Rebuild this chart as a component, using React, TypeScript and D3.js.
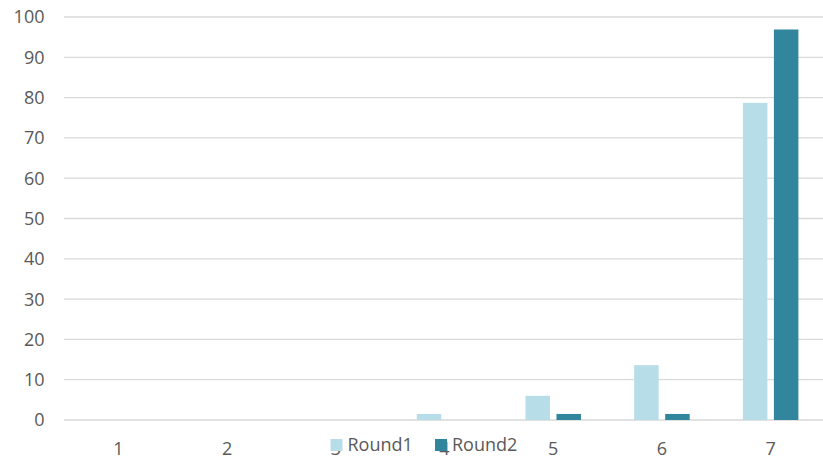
import React from "react";
import * as d3 from "d3";

const categories = ["1", "2", "3", "4", "5", "6", "7"];
const seriesNames = ["Round1", "Round2"];
const round1 = [0, 0, 0, 1.5, 6.0, 13.6, 78.7];
const round2 = [0, 0, 0, 0, 1.5, 1.5, 96.9];
const yTicks = [0, 10, 20, 30, 40, 50, 60, 70, 80, 90, 100];

const width = 823;
const height = 459;
const colors = ["#b7dde8", "#31859c"]; // light / dark teal
const font = "'Open Sans', sans-serif";

export default function App() {
  const x = d3.scaleBand<string>().domain(categories).range([64, 825]).padding(0);
  const xSub = d3
    .scaleBand<string>()
    .domain(seriesNames)
    .range([0, x.bandwidth()])
    .paddingInner(0.21)
    .paddingOuter(0.858);
  const y = d3.scaleLinear().domain([0, 100]).range([420, 17]);

  const series = [round1, round2];

  return (
    <div style={{ position: "fixed", left: 0, top: 0 }}>
      <svg width={width} height={height} style={{ display: "block", background: "#fff" }}>
        {/* grid */}
        <g stroke="#d9d9d9" strokeWidth={1.3}>
          {yTicks.map((t) => (
            <line key={t} x1={64} x2={width} y1={y(t)} y2={y(t)} />
          ))}
        </g>
        {/* y labels */}
        <g fontFamily={font} fontSize={18} fill="#595959" textAnchor="end">
          {yTicks.map((t) => (
            <text key={t} x={44.5} y={y(t)} dy="0.36em">
              {t}
            </text>
          ))}
        </g>
        {/* bars */}
        {series.map((vals, si) => (
          <g key={seriesNames[si]} fill={colors[si]}>
            {vals.map((v, i) => (
              <rect
                key={i}
                x={(x(categories[i]) ?? 0) + (xSub(seriesNames[si]) ?? 0)}
                y={y(v)}
                width={xSub.bandwidth()}
                height={y(0) - y(v)}
              />
            ))}
          </g>
        ))}
        {/* x labels */}
        <g fontFamily={font} fontSize={18} fill="#595959" textAnchor="middle">
          {categories.map((c) => (
            <text key={c} x={(x(c) ?? 0) + x.bandwidth() / 2} y={455}>
              {c}
            </text>
          ))}
        </g>
        {/* legend, drawn over the axis labels like the source */}
        <g fontFamily={font} fontSize={18} fill="#595959">
          {seriesNames.map((s, i) => {
            const lx = 330.5 + i * 104.5;
            return (
              <g key={s}>
                <rect x={lx} y={439} width={12} height={12} fill={colors[i]} />
                <text x={lx + 17} y={451}>
                  {s}
                </text>
              </g>
            );
          })}
        </g>
      </svg>
    </div>
  );
}
